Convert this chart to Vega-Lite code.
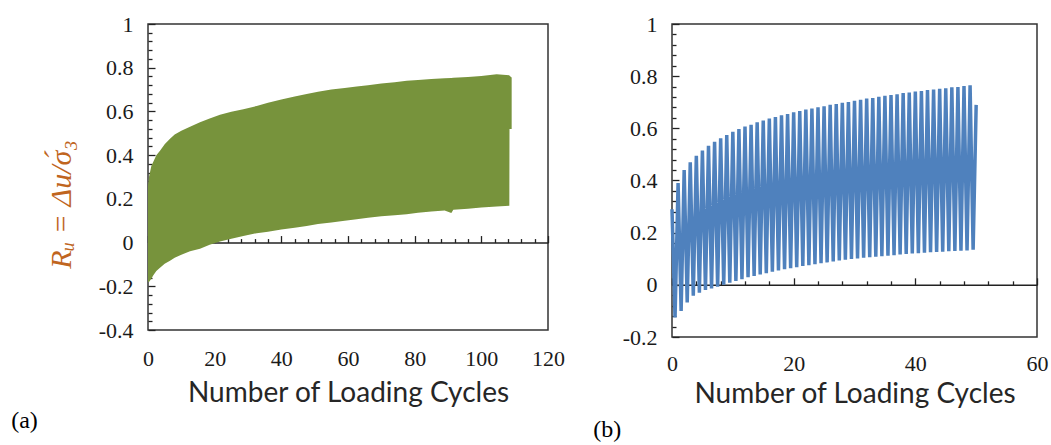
{
  "$schema": "https://vega.github.io/schema/vega-lite/v6.json",
  "background": "white",
  "padding": {"left": 10, "top": 12, "right": 0, "bottom": 0},
  "spacing": 26,
  "datasets": {
    "a": [
      {"cycle": 0, "upper": 0.26, "lower": -0.18},
      {"cycle": 0.3, "upper": 0.3, "lower": -0.18},
      {"cycle": 1, "upper": 0.35, "lower": -0.165},
      {"cycle": 1.6, "upper": 0.37, "lower": -0.15},
      {"cycle": 2.5, "upper": 0.4, "lower": -0.13},
      {"cycle": 3.6, "upper": 0.42, "lower": -0.115},
      {"cycle": 5, "upper": 0.45, "lower": -0.097},
      {"cycle": 6.6, "upper": 0.475, "lower": -0.083},
      {"cycle": 8, "upper": 0.495, "lower": -0.07},
      {"cycle": 10, "upper": 0.512, "lower": -0.056},
      {"cycle": 12.6, "upper": 0.53, "lower": -0.04},
      {"cycle": 15.6, "upper": 0.55, "lower": -0.028},
      {"cycle": 18.5, "upper": 0.568, "lower": -0.01},
      {"cycle": 21.6, "upper": 0.585, "lower": 0.005},
      {"cycle": 25, "upper": 0.598, "lower": 0.018},
      {"cycle": 28.6, "upper": 0.61, "lower": 0.03},
      {"cycle": 32.6, "upper": 0.625, "lower": 0.043},
      {"cycle": 36, "upper": 0.64, "lower": 0.05},
      {"cycle": 40, "upper": 0.655, "lower": 0.06},
      {"cycle": 44, "upper": 0.668, "lower": 0.068},
      {"cycle": 47.6, "upper": 0.68, "lower": 0.076},
      {"cycle": 51, "upper": 0.69, "lower": 0.085},
      {"cycle": 55, "upper": 0.7, "lower": 0.092},
      {"cycle": 59, "upper": 0.707, "lower": 0.1},
      {"cycle": 62.6, "upper": 0.714, "lower": 0.107},
      {"cycle": 66, "upper": 0.72, "lower": 0.113},
      {"cycle": 70, "upper": 0.728, "lower": 0.12},
      {"cycle": 74, "upper": 0.734, "lower": 0.125},
      {"cycle": 77.6, "upper": 0.74, "lower": 0.13},
      {"cycle": 81, "upper": 0.744, "lower": 0.136},
      {"cycle": 85, "upper": 0.748, "lower": 0.142},
      {"cycle": 89, "upper": 0.752, "lower": 0.147},
      {"cycle": 91, "upper": 0.753, "lower": 0.135},
      {"cycle": 91.6, "upper": 0.754, "lower": 0.15},
      {"cycle": 96, "upper": 0.758, "lower": 0.155},
      {"cycle": 100, "upper": 0.762, "lower": 0.16},
      {"cycle": 104.6, "upper": 0.77, "lower": 0.165},
      {"cycle": 108.4, "upper": 0.765, "lower": 0.168},
      {"cycle": 108.45, "upper": 0.763, "lower": 0.52},
      {"cycle": 109.1, "upper": 0.755, "lower": 0.52}
    ],
    "b": [
      {"cycle": 0, "ru": 0.29}, {"cycle": 0.5, "ru": -0.125},
      {"cycle": 1, "ru": 0.39}, {"cycle": 1.5, "ru": -0.1},
      {"cycle": 2, "ru": 0.44}, {"cycle": 2.5, "ru": -0.068},
      {"cycle": 3, "ru": 0.47}, {"cycle": 3.5, "ru": -0.042},
      {"cycle": 4, "ru": 0.495}, {"cycle": 4.5, "ru": -0.03},
      {"cycle": 5, "ru": 0.515}, {"cycle": 5.5, "ru": -0.02},
      {"cycle": 6, "ru": 0.533}, {"cycle": 6.5, "ru": -0.014},
      {"cycle": 7, "ru": 0.548}, {"cycle": 7.5, "ru": -0.007},
      {"cycle": 8, "ru": 0.562}, {"cycle": 8.5, "ru": 0.0},
      {"cycle": 9, "ru": 0.574}, {"cycle": 9.5, "ru": 0.008},
      {"cycle": 10, "ru": 0.587}, {"cycle": 10.5, "ru": 0.015},
      {"cycle": 11, "ru": 0.597}, {"cycle": 11.5, "ru": 0.022},
      {"cycle": 12, "ru": 0.607}, {"cycle": 12.5, "ru": 0.029},
      {"cycle": 13, "ru": 0.614}, {"cycle": 13.5, "ru": 0.034},
      {"cycle": 14, "ru": 0.623}, {"cycle": 14.5, "ru": 0.04},
      {"cycle": 15, "ru": 0.63}, {"cycle": 15.5, "ru": 0.045},
      {"cycle": 16, "ru": 0.638}, {"cycle": 16.5, "ru": 0.05},
      {"cycle": 17, "ru": 0.643}, {"cycle": 17.5, "ru": 0.055},
      {"cycle": 18, "ru": 0.65}, {"cycle": 18.5, "ru": 0.06},
      {"cycle": 19, "ru": 0.655}, {"cycle": 19.5, "ru": 0.064},
      {"cycle": 20, "ru": 0.662}, {"cycle": 20.5, "ru": 0.068},
      {"cycle": 21, "ru": 0.666}, {"cycle": 21.5, "ru": 0.072},
      {"cycle": 22, "ru": 0.672}, {"cycle": 22.5, "ru": 0.075},
      {"cycle": 23, "ru": 0.676}, {"cycle": 23.5, "ru": 0.079},
      {"cycle": 24, "ru": 0.681}, {"cycle": 24.5, "ru": 0.083},
      {"cycle": 25, "ru": 0.685}, {"cycle": 25.5, "ru": 0.086},
      {"cycle": 26, "ru": 0.69}, {"cycle": 26.5, "ru": 0.09},
      {"cycle": 27, "ru": 0.693}, {"cycle": 27.5, "ru": 0.093},
      {"cycle": 28, "ru": 0.698}, {"cycle": 28.5, "ru": 0.096},
      {"cycle": 29, "ru": 0.701}, {"cycle": 29.5, "ru": 0.099},
      {"cycle": 30, "ru": 0.706}, {"cycle": 30.5, "ru": 0.101},
      {"cycle": 31, "ru": 0.709}, {"cycle": 31.5, "ru": 0.104},
      {"cycle": 32, "ru": 0.714}, {"cycle": 32.5, "ru": 0.106},
      {"cycle": 33, "ru": 0.716}, {"cycle": 33.5, "ru": 0.108},
      {"cycle": 34, "ru": 0.721}, {"cycle": 34.5, "ru": 0.11},
      {"cycle": 35, "ru": 0.725}, {"cycle": 35.5, "ru": 0.112},
      {"cycle": 36, "ru": 0.728}, {"cycle": 36.5, "ru": 0.114},
      {"cycle": 37, "ru": 0.731}, {"cycle": 37.5, "ru": 0.116},
      {"cycle": 38, "ru": 0.735}, {"cycle": 38.5, "ru": 0.118},
      {"cycle": 39, "ru": 0.737}, {"cycle": 39.5, "ru": 0.12},
      {"cycle": 40, "ru": 0.741}, {"cycle": 40.5, "ru": 0.121},
      {"cycle": 41, "ru": 0.743}, {"cycle": 41.5, "ru": 0.123},
      {"cycle": 42, "ru": 0.747}, {"cycle": 42.5, "ru": 0.125},
      {"cycle": 43, "ru": 0.749}, {"cycle": 43.5, "ru": 0.126},
      {"cycle": 44, "ru": 0.752}, {"cycle": 44.5, "ru": 0.127},
      {"cycle": 45, "ru": 0.754}, {"cycle": 45.5, "ru": 0.129},
      {"cycle": 46, "ru": 0.757}, {"cycle": 46.5, "ru": 0.13},
      {"cycle": 47, "ru": 0.758}, {"cycle": 47.5, "ru": 0.131},
      {"cycle": 48, "ru": 0.762}, {"cycle": 48.5, "ru": 0.132},
      {"cycle": 49, "ru": 0.765}, {"cycle": 49.5, "ru": 0.135},
      {"cycle": 50, "ru": 0.69}
    ]
  },
  "hconcat": [
    {
      "width": 400,
      "height": 306,
      "title": {"text": "(a)", "orient": "bottom", "anchor": "start", "frame": "bounds", "font": "Liberation Serif", "fontSize": 24, "fontWeight": "normal", "color": "#000000", "dx": -35, "offset": 2},
      "resolve": {"axis": {"x": "independent"}},
      "layer": [
        {
          "data": {"name": "a"},
          "mark": {"type": "area", "color": "#77933c", "opacity": 1},
          "encoding": {
            "x": {"field": "cycle", "type": "quantitative", "scale": {"domain": [0, 120], "nice": false, "zero": false},
              "axis": {"orient": "bottom", "values": [0, 20, 40, 60, 80, 100, 120], "ticks": false, "domain": false, "labelPadding": 18, "labelFlush": false, "labelOverlap": false,
                "title": "Number of Loading Cycles", "titleFont": "Lato", "titleFontSize": 28, "titleFontWeight": "normal", "titleColor": "#262626", "titlePadding": 10}},
            "y": {"field": "upper", "type": "quantitative", "scale": {"domain": [-0.4, 1], "nice": false, "zero": false},
              "axis": {"values": [-0.4, -0.36, -0.32, -0.28, -0.24, -0.2, -0.16, -0.12, -0.08, -0.04, 0, 0.04, 0.08, 0.12, 0.16, 0.2, 0.24, 0.28, 0.32, 0.36, 0.4, 0.44, 0.48, 0.52, 0.56, 0.6, 0.64, 0.68, 0.72, 0.76, 0.8, 0.84, 0.88, 0.92, 0.96, 1],
                "labelExpr": "abs(datum.value*5 - round(datum.value*5)) < 0.001 ? '' + (round(datum.value*10)/10) : ''",
                "tickSize": {"condition": {"test": "abs(datum.value*5 - round(datum.value*5)) < 0.001", "value": -7}, "value": -4},
                "domain": false, "labelPadding": 22, "labelOverlap": false,
                "title": "Rᵤ = Δu/σ́₃", "titleFont": "Liberation Serif", "titleFontStyle": "italic", "titleFontSize": 30, "titleFontWeight": "normal", "titleColor": "#c0651e", "titlePadding": 22, "titleY": 180}},
            "y2": {"field": "lower"}
          }
        },
        {
          "data": {"name": "a"},
          "mark": {"type": "rule", "opacity": 0},
          "encoding": {
            "x": {"field": "cycle", "type": "quantitative", "scale": {"domain": [0, 120], "nice": false, "zero": false},
              "axis": {"orient": "bottom", "offset": -87.43, "values": [0, 4, 8, 12, 16, 20, 24, 28, 32, 36, 40, 44, 48, 52, 56, 60, 64, 68, 72, 76, 80, 84, 88, 92, 96, 100, 104, 108, 112, 116, 120],
                "labels": false, "title": null, "domain": true, "domainColor": "#222222", "domainWidth": 1.5, "tickWidth": 1.3,
                "tickSize": {"condition": {"test": "datum.value % 20 === 0", "value": -7}, "value": -4}}}
          }
        }
      ]
    },
    {
      "width": 365,
      "height": 313,
      "title": {"text": "(b)", "orient": "bottom", "anchor": "start", "frame": "bounds", "font": "Liberation Serif", "fontSize": 24, "fontWeight": "normal", "color": "#000000", "dx": -29, "offset": 10},
      "resolve": {"axis": {"x": "independent"}},
      "layer": [
        {
          "data": {"name": "b"},
          "mark": {"type": "line", "color": "#4f81bd", "strokeWidth": 3.5},
          "encoding": {
            "x": {"field": "cycle", "type": "quantitative", "scale": {"domain": [0, 60], "nice": false, "zero": false},
              "axis": {"orient": "bottom", "values": [0, 20, 40, 60], "ticks": false, "domain": false, "labelPadding": 16, "labelFlush": false, "labelOverlap": false,
                "title": "Number of Loading Cycles", "titleFont": "Lato", "titleFontSize": 28, "titleFontWeight": "normal", "titleColor": "#262626", "titlePadding": 6}},
            "y": {"field": "ru", "type": "quantitative", "scale": {"domain": [-0.2, 1], "nice": false, "zero": false},
              "axis": {"values": [-0.2, -0.16, -0.12, -0.08, -0.04, 0, 0.04, 0.08, 0.12, 0.16, 0.2, 0.24, 0.28, 0.32, 0.36, 0.4, 0.44, 0.48, 0.52, 0.56, 0.6, 0.64, 0.68, 0.72, 0.76, 0.8, 0.84, 0.88, 0.92, 0.96, 1],
                "labelExpr": "abs(datum.value*5 - round(datum.value*5)) < 0.001 ? '' + (round(datum.value*10)/10) : ''",
                "tickSize": {"condition": {"test": "abs(datum.value*5 - round(datum.value*5)) < 0.001", "value": -7}, "value": -4},
                "domain": false, "labelPadding": 22, "labelOverlap": false, "title": null}}
          }
        },
        {
          "data": {"name": "b"},
          "mark": {"type": "rule", "opacity": 0},
          "encoding": {
            "x": {"field": "cycle", "type": "quantitative", "scale": {"domain": [0, 60], "nice": false, "zero": false},
              "axis": {"orient": "bottom", "offset": -52.17, "values": [0, 4, 8, 12, 16, 20, 24, 28, 32, 36, 40, 44, 48, 52, 56, 60],
                "labels": false, "title": null, "domain": true, "domainColor": "#222222", "domainWidth": 1.5, "tickWidth": 1.3,
                "tickSize": {"condition": {"test": "datum.value % 20 === 0", "value": -7}, "value": -4}}}
          }
        }
      ]
    }
  ],
  "config": {
    "view": {"stroke": "#333333", "strokeWidth": 1.5},
    "axis": {"grid": false, "labelFont": "Liberation Serif", "labelFontSize": 22, "labelColor": "#1a1a1a", "tickColor": "#222222", "tickWidth": 1.3, "domainColor": "#222222"}
  }
}
